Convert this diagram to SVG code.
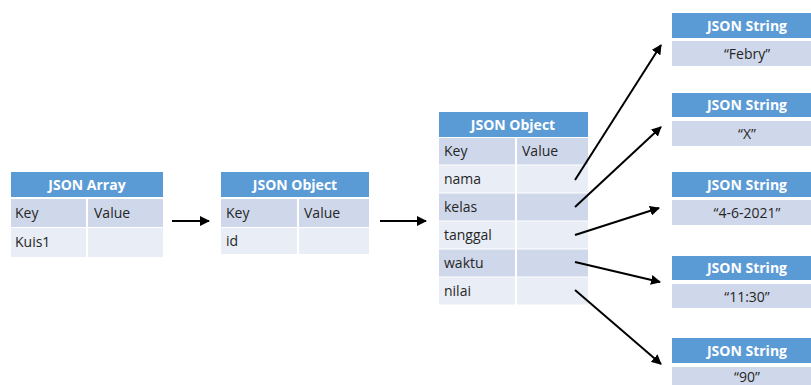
<svg xmlns="http://www.w3.org/2000/svg" width="811" height="385" viewBox="0 0 811 385">
<defs>
<marker id="ah" viewBox="0 0 10 10" refX="9" refY="5" markerWidth="5" markerHeight="5" orient="auto" markerUnits="strokeWidth">
<path d="M0,0 L10,5 L0,10 z" fill="#000"/>
</marker>
<style>
.hd{fill:#5b9bd5}
.dk{fill:#cfd8ea}
.lt{fill:#e9edf5}
.ht{font-family:"Open Sans","Liberation Sans",sans-serif;font-weight:bold;font-size:14px;fill:#fff;text-anchor:middle}
.tx{font-family:"Open Sans","Liberation Sans",sans-serif;font-size:14px;fill:#262626}
.sv{font-family:"Open Sans","Liberation Sans",sans-serif;font-size:14px;fill:#262626;text-anchor:middle}
.cn{stroke:#000;stroke-width:2;fill:none;marker-end:url(#ah)}
</style>
</defs>
<rect width="811" height="385" fill="#fff"/>

<g id="json-array">
<rect class="hd" x="11" y="172" width="152" height="25"/>
<text class="ht" x="87" y="190">JSON Array</text>
<rect class="dk" x="11" y="199" width="75" height="28"/>
<rect class="dk" x="88" y="199" width="75" height="28"/>
<rect class="lt" x="11" y="228" width="75" height="29"/>
<rect class="lt" x="88" y="228" width="75" height="29"/>
<text class="tx" x="15" y="218">Key</text>
<text class="tx" x="94" y="218">Value</text>
<text class="tx" x="15" y="247">Kuis1</text>
</g>

<g id="json-object-1">
<rect class="hd" x="221" y="172" width="148" height="25"/>
<text class="ht" x="295" y="190">JSON Object</text>
<rect class="dk" x="221" y="199" width="76" height="28"/>
<rect class="dk" x="299" y="199" width="70" height="28"/>
<rect class="lt" x="221" y="228" width="76" height="26"/>
<rect class="lt" x="299" y="228" width="70" height="26"/>
<text class="tx" x="226" y="218">Key</text>
<text class="tx" x="304" y="218">Value</text>
<text class="tx" x="226" y="246">id</text>
</g>

<g id="json-object-2">
<rect class="hd" x="439" y="112" width="149" height="25"/>
<text class="ht" x="513" y="130">JSON Object</text>
<rect class="dk" x="439" y="138" width="76" height="26.5"/>
<rect class="dk" x="517" y="138" width="71" height="26.5"/>
<rect class="lt" x="439" y="165.5" width="76" height="27"/>
<rect class="lt" x="517" y="165.5" width="71" height="27"/>
<rect class="dk" x="439" y="193.5" width="76" height="27"/>
<rect class="dk" x="517" y="193.5" width="71" height="27"/>
<rect class="lt" x="439" y="221.5" width="76" height="27"/>
<rect class="lt" x="517" y="221.5" width="71" height="27"/>
<rect class="dk" x="439" y="249.5" width="76" height="27"/>
<rect class="dk" x="517" y="249.5" width="71" height="27"/>
<rect class="lt" x="439" y="277.5" width="76" height="27"/>
<rect class="lt" x="517" y="277.5" width="71" height="27"/>
<text class="tx" x="444" y="156">Key</text>
<text class="tx" x="522" y="156">Value</text>
<text class="tx" x="444" y="184">nama</text>
<text class="tx" x="444" y="212">kelas</text>
<text class="tx" x="444" y="240">tanggal</text>
<text class="tx" x="444" y="268">waktu</text>
<text class="tx" x="444" y="296">nilai</text>
</g>

<g id="string-febry">
<rect class="hd" x="672" y="13" width="150" height="25"/>
<text class="ht" x="747" y="31">JSON String</text>
<rect class="dk" x="672" y="41" width="150" height="25"/>
<text class="sv" x="747" y="59">“Febry”</text>
</g>

<g id="string-x">
<rect class="hd" x="672" y="93" width="150" height="24"/>
<text class="ht" x="747" y="110">JSON String</text>
<rect class="dk" x="672" y="121" width="150" height="25"/>
<text class="sv" x="747" y="139">“X”</text>
</g>

<g id="string-date">
<rect class="hd" x="672" y="172" width="150" height="25"/>
<text class="ht" x="747" y="190">JSON String</text>
<rect class="dk" x="672" y="200" width="150" height="25"/>
<text class="sv" x="747" y="218">“4-6-2021”</text>
</g>

<g id="string-time">
<rect class="hd" x="672" y="256" width="150" height="24"/>
<text class="ht" x="747" y="273">JSON String</text>
<rect class="dk" x="672" y="284" width="150" height="24"/>
<text class="sv" x="747" y="302">“11:30”</text>
</g>

<g id="string-90">
<rect class="hd" x="672" y="338" width="150" height="25"/>
<text class="ht" x="747" y="356">JSON String</text>
<rect class="dk" x="672" y="367" width="150" height="25"/>
<text class="sv" x="747" y="382">“90”</text>
</g>

<g id="connectors">
<line class="cn" x1="172" y1="221" x2="209" y2="221"/>
<line class="cn" x1="380" y1="221" x2="426" y2="221"/>
<line class="cn" x1="575" y1="180" x2="661" y2="45"/>
<line class="cn" x1="575" y1="207" x2="661" y2="127"/>
<line class="cn" x1="575" y1="235" x2="659" y2="208"/>
<line class="cn" x1="575" y1="262" x2="660" y2="282"/>
<line class="cn" x1="575" y1="290" x2="661" y2="364"/>
</g>
</svg>
